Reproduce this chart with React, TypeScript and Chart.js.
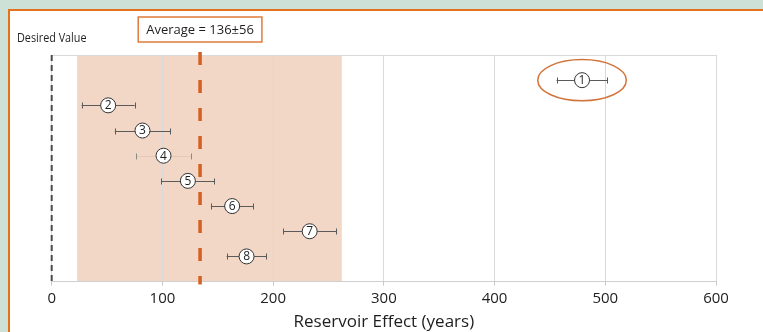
import { useEffect, useRef } from "react";
import { Chart, registerables } from "chart.js";

Chart.register(...registerables);

// ---- data ----
const sampleIds = ["1", "2", "3", "4", "5", "6", "7", "8"];
const rowPositions = [1, 2, 3, 4, 5, 6, 7, 8];
const effectValues = [479, 51, 82, 101, 123, 163, 233, 176];
const effectErrors = [23, 24, 25, 25, 24, 19, 24, 18];
const faintBars = [false, false, false, true, false, false, false, false];
const xMin = 0;
const xMax = 600;
const xStep = 100;
const meanValue = 134;
const rangeLow = 23;
const rangeHigh = 262;
const desiredValue = 0;
const averageLabel = "Average = 136±56";
const desiredLabel = "Desired Value";
const axisTitle = "Reservoir Effect (years)";
const outlierIndex = 0;
const outlierHalfWidth = 40; // in data units
const outlierHalfHeight = 0.82; // in row units

const FONT = "'Open Sans', 'DejaVu Sans', sans-serif";

const decorPlugin = {
  id: "decor",
  beforeDraw(chart: any) {
    const { ctx, width, height, chartArea, scales } = chart;
    const x = scales.x;
    ctx.save();
    // page background
    ctx.fillStyle = "#cee1d6";
    ctx.fillRect(0, 0, width, height);
    // white panel with orange frame
    ctx.fillStyle = "#ffffff";
    ctx.fillRect(10, 11, width - 10, height - 11);
    ctx.fillStyle = "#e2721c";
    ctx.fillRect(8, 9, 2, height - 9);
    ctx.fillRect(8, 9, width - 8, 2);
    // shaded range
    const xl = x.getPixelForValue(rangeLow);
    const xr = x.getPixelForValue(rangeHigh);
    ctx.fillStyle = "#f2d6c6";
    ctx.fillRect(xl, chartArea.top, xr - xl, chartArea.bottom - chartArea.top);
    ctx.restore();
  },
  beforeDatasetsDraw(chart: any) {
    const { ctx, chartArea, scales } = chart;
    const x = scales.x;
    const y = scales.y;
    ctx.save();
    // top frame line
    ctx.strokeStyle = "#d9d9d9";
    ctx.lineWidth = 1;
    ctx.beginPath();
    ctx.moveTo(chartArea.left, chartArea.top + 0.5);
    ctx.lineTo(chartArea.right, chartArea.top + 0.5);
    ctx.stroke();

    // desired value dashed line
    const xd = x.getPixelForValue(desiredValue);
    ctx.strokeStyle = "#4a4a4a";
    ctx.lineWidth = 2;
    ctx.setLineDash([6, 4]);
    ctx.beginPath();
    ctx.moveTo(xd, chartArea.top);
    ctx.lineTo(xd, chartArea.bottom);
    ctx.stroke();

    // mean dashed line
    const xm = x.getPixelForValue(meanValue);
    ctx.strokeStyle = "#d65f22";
    ctx.lineWidth = 3.5;
    ctx.setLineDash([13, 15]);
    ctx.beginPath();
    ctx.moveTo(xm, chartArea.top - 3);
    ctx.lineTo(xm, chartArea.bottom + 3);
    ctx.stroke();
    ctx.setLineDash([]);

    // error bars
    for (let i = 0; i < effectValues.length; i++) {
      const yy = Math.round(y.getPixelForValue(rowPositions[i])) + 0.5;
      const x1 = x.getPixelForValue(effectValues[i] - effectErrors[i]);
      const x2 = x.getPixelForValue(effectValues[i] + effectErrors[i]);
      ctx.lineWidth = 1;
      ctx.strokeStyle = faintBars[i] ? "#e6c8b8" : "#5a5a5a";
      ctx.beginPath();
      ctx.moveTo(x1, yy);
      ctx.lineTo(x2, yy);
      ctx.stroke();
      ctx.strokeStyle = faintBars[i] ? "#8a8a8a" : "#5a5a5a";
      ctx.beginPath();
      ctx.moveTo(Math.round(x1) + 0.5, yy - 3);
      ctx.lineTo(Math.round(x1) + 0.5, yy + 3);
      ctx.moveTo(Math.round(x2) + 0.5, yy - 3);
      ctx.lineTo(Math.round(x2) + 0.5, yy + 3);
      ctx.stroke();
    }
    ctx.restore();
  },
  afterDatasetsDraw(chart: any) {
    const { ctx, chartArea, scales } = chart;
    const x = scales.x;
    const y = scales.y;
    ctx.save();
    // numbers in circles
    ctx.fillStyle = "#1e1e1e";
    ctx.font = `12px ${FONT}`;
    ctx.textAlign = "center";
    ctx.textBaseline = "middle";
    for (let i = 0; i < effectValues.length; i++) {
      ctx.fillText(sampleIds[i], x.getPixelForValue(effectValues[i]), y.getPixelForValue(rowPositions[i]) + 0.5);
    }
    // outlier ellipse
    const cx = x.getPixelForValue(effectValues[outlierIndex]);
    const cy = y.getPixelForValue(rowPositions[outlierIndex]);
    const rx = x.getPixelForValue(effectValues[outlierIndex] + outlierHalfWidth) - cx;
    const ry = y.getPixelForValue(rowPositions[outlierIndex] + outlierHalfHeight) - cy;
    ctx.strokeStyle = "#d2743a";
    ctx.lineWidth = 1.5;
    ctx.beginPath();
    ctx.ellipse(cx, cy, rx, Math.abs(ry), 0, 0, Math.PI * 2);
    ctx.stroke();

    // average label box, centred on the mean line
    const xm = x.getPixelForValue(meanValue);
    ctx.font = `13px ${FONT}`;
    const tw = ctx.measureText(averageLabel).width;
    const bw = tw + 16;
    const bh = 25;
    const bx = xm - bw / 2;
    const by = chartArea.top - 38;
    ctx.fillStyle = "#ffffff";
    ctx.fillRect(bx, by, bw, bh);
    ctx.strokeStyle = "#e07a3a";
    ctx.lineWidth = 1.5;
    ctx.strokeRect(bx, by, bw, bh);
    ctx.fillStyle = "#1e1e1e";
    ctx.fillText(averageLabel, xm, by + bh / 2 + 0.5);

    // desired value label
    ctx.font = `12px ${FONT}`;
    ctx.textAlign = "left";
    ctx.save();
    ctx.translate(17, chartArea.top - 16);
    ctx.scale(0.9, 1);
    ctx.fillText(desiredLabel, 0, 0);
    ctx.restore();
    ctx.restore();
  },
};

export default function App() {
  const ref = useRef<HTMLCanvasElement | null>(null);
  useEffect(() => {
    if (!ref.current) return;
    const chart = new Chart(ref.current, {
      type: "scatter",
      data: {
        datasets: [
          {
            data: effectValues.map((v, i) => ({ x: v, y: rowPositions[i] })),
            pointRadius: 7.5,
            pointBackgroundColor: "#ffffff",
            pointBorderColor: "#333333",
            pointBorderWidth: 1,
            showLine: false,
          },
        ],
      },
      options: {
        animation: false,
        responsive: false,
        layout: { padding: { left: 51.7, right: 47, top: 55, bottom: 0 } },
        plugins: { legend: { display: false }, tooltip: { enabled: false } },
        scales: {
          x: {
            type: "linear",
            min: xMin,
            max: xMax,
            ticks: { stepSize: xStep, color: "#222222", padding: 4, font: { family: FONT, size: 15 } },
            grid: { color: "#d9d9d9", tickLength: 4, tickColor: "#c8c8c8" },
            border: { color: "#cfcfcf" },
            title: {
              display: true,
              text: axisTitle,
              color: "#1e1e1e",
              font: { family: FONT, size: 17 },
              padding: { top: 0, bottom: 0 },
            },
          },
          y: { type: "linear", min: 0, max: 9, reverse: true, display: false },
        },
      },
      plugins: [decorPlugin],
    });
    return () => chart.destroy();
  }, []);
  return (
    <div style={{ position: "fixed", left: 0, top: 0, width: 763, height: 332 }}>
      <canvas ref={ref} width={763} height={332} style={{ display: "block" }} />
    </div>
  );
}
